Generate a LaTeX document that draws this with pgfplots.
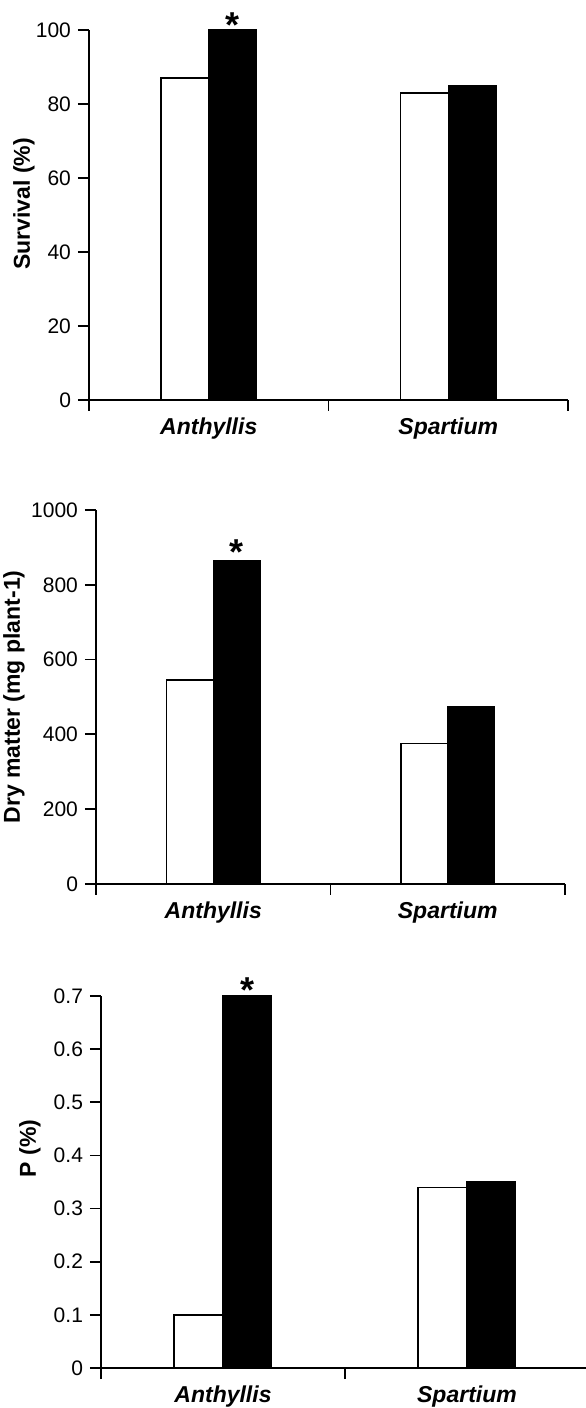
\documentclass[border=0pt]{standalone}
\usepackage{pgfplots}
\pgfplotsset{compat=1.18}
\usepackage{fontspec}
\setmainfont{Liberation Sans}
\pgfplotsset{
  panel/.style={
    scale only axis,
    xmin=-0.5, xmax=1.5, ymin=0,
    axis x line*=bottom, axis y line*=left,
    axis line style={line width=0.9pt, -},
    xtick={-0.5,0.5,1.5}, xticklabels={},
    extra x ticks={0,1},
    extra x tick labels={Anthyllis,Spartium},
    extra x tick style={major tick length=0pt,
      tick label style={font=\fontsize{11.5}{13}\selectfont\bfseries\itshape, yshift=-5.5pt}},
    tick align=outside, major tick length=5.5pt,
    minor tick num=0,
    tick style={line width=0.9pt, black},
    y tick label style={font=\fontsize{10.5}{12}\selectfont},
    /pgf/number format/assume math mode=true,
    /pgf/number format/1000 sep={},
    ylabel style={font=\fontsize{11.5}{13}\selectfont\bfseries, anchor=center},
    ybar, bar width=0.2,
    clip=false,
  },
  wbar/.style={fill=white, draw=black, line width=0.7pt, bar shift=-0.1},
  bbar/.style={fill=black, draw=black, line width=0.7pt, bar shift=0.1},
}
\tikzset{starnode/.style={anchor=base, inner sep=0pt, font=\fontsize{18}{18}\selectfont\bfseries}}
\begin{document}
\begin{tikzpicture}
\path[use as bounding box] (0pt,0pt) rectangle (292.5pt,704pt);

% Panel 1: Survival
\begin{axis}[panel, at={(44.5pt,504pt)}, anchor=south west,
  width=239.5pt, height=185pt, ymax=100,
  ytick={0,20,40,60,80,100},
  ylabel={Survival (\%)},
  ylabel style={at={(axis description cs:-0.136,0.53)}}]
\addplot[wbar] coordinates {(0,87) (1,83)};
\addplot[bbar] coordinates {(0,100) (1,85)};
\node[starnode, yshift=-4pt] at (axis cs:0.1,100) {*};
\end{axis}

% Panel 2: Dry matter
\begin{axis}[panel, at={(48pt,262pt)}, anchor=south west,
  width=234.5pt, height=187pt, ymax=1000,
  ytick={0,200,400,600,800,1000},
  ylabel={Dry matter (mg plant-1)},
  ylabel style={at={(axis description cs:-0.175,0.5)}}]
\addplot[wbar] coordinates {(0,545) (1,375)};
\addplot[bbar] coordinates {(0,865) (1,475)};
\node[starnode, yshift=-2pt] at (axis cs:0.1,865) {*};
\end{axis}

% Panel 3: P
\begin{axis}[panel, at={(50.5pt,20pt)}, anchor=south west,
  width=244pt, height=186pt, ymax=0.7,
  ytick={0,0.1,0.2,0.3,0.4,0.5,0.6,0.7},
  ylabel={P (\%)},
  ylabel style={at={(axis description cs:-0.1455,0.59)}}]
\addplot[wbar] coordinates {(0,0.1) (1,0.34)};
\addplot[bbar] coordinates {(0,0.7) (1,0.35)};
\node[starnode, yshift=-3pt] at (axis cs:0.1,0.7) {*};
\end{axis}
\end{tikzpicture}
\end{document}
